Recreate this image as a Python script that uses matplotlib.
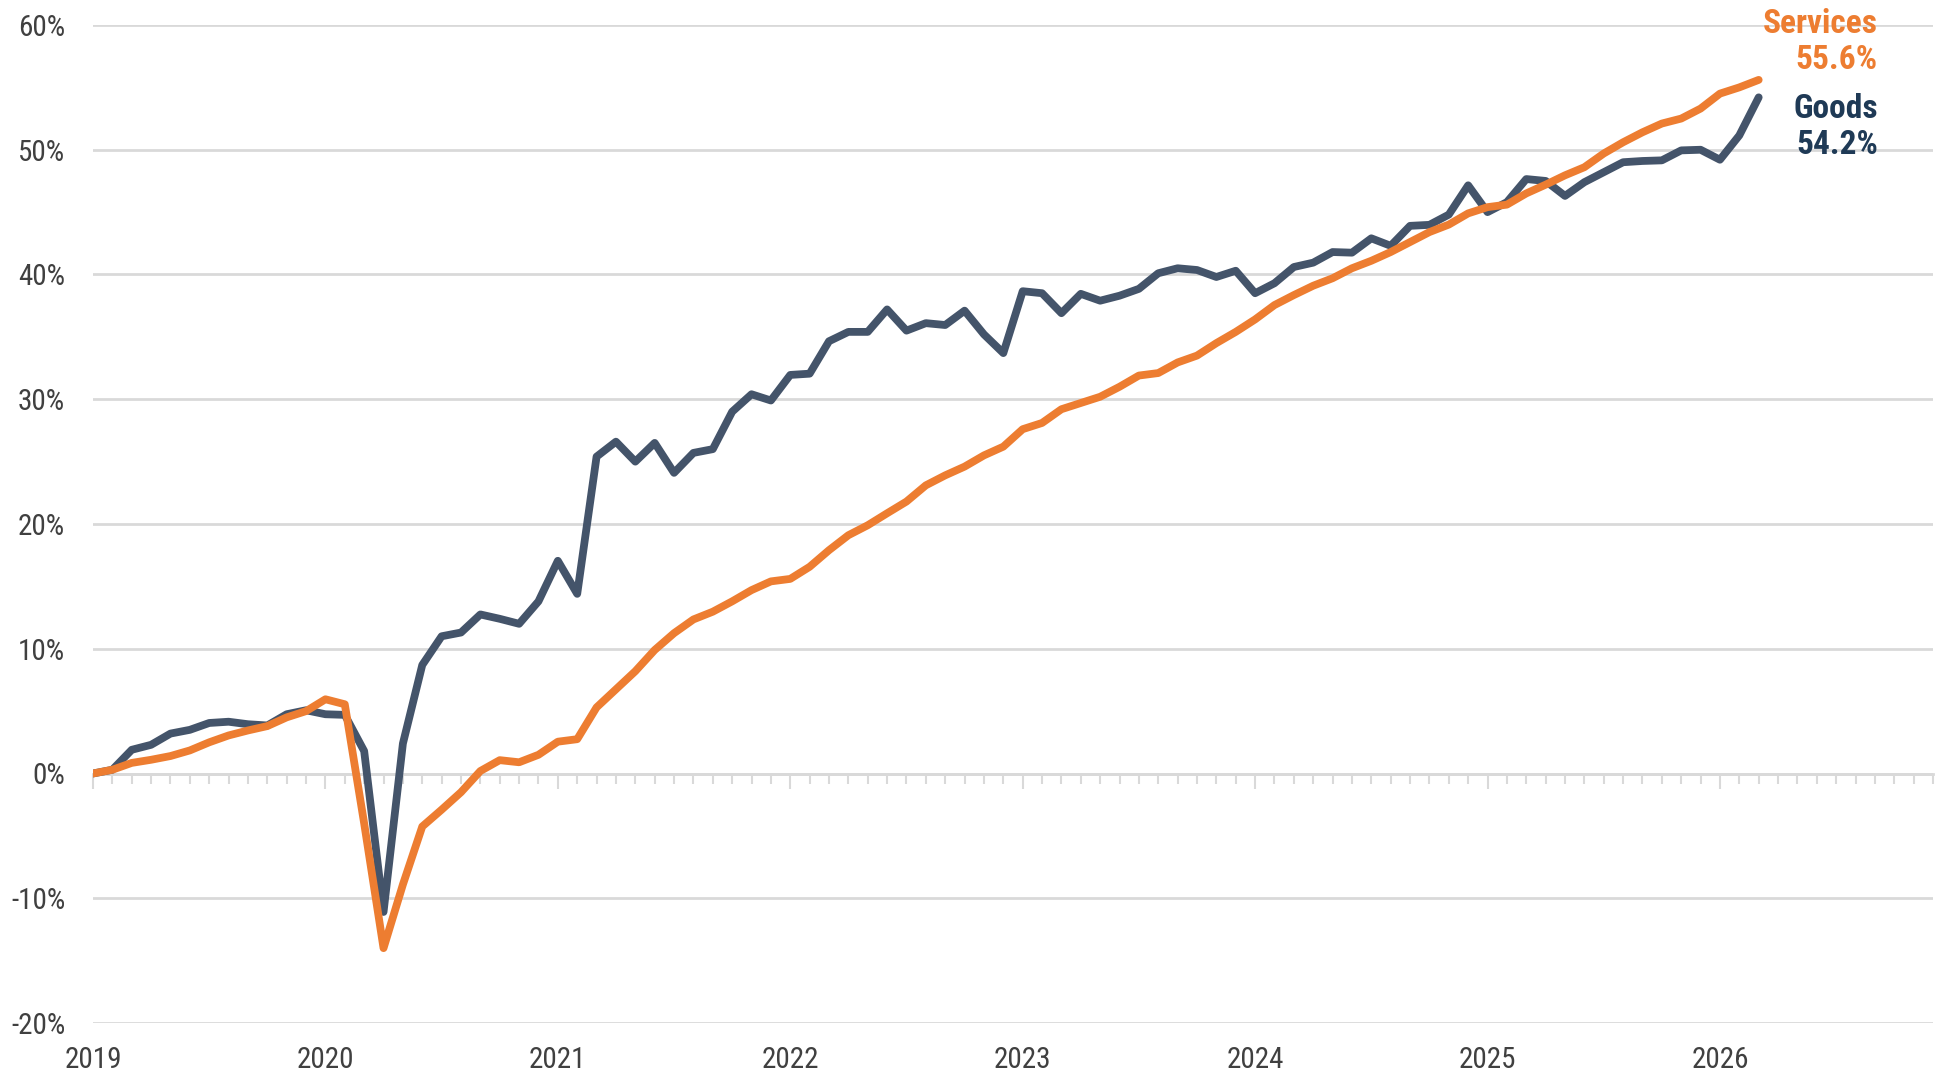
import numpy as np
import matplotlib
matplotlib.use("Agg")
import matplotlib.pyplot as plt
from matplotlib import font_manager as fm
from matplotlib.ticker import MultipleLocator, FixedLocator

# monthly index, Jan 2019 = 0 ... Mar 2026 = 86
goods = [0, 0.3, 1.9, 2.3, 3.2, 3.5, 4.05, 4.15, 3.95, 3.85, 4.75, 5.07,
         4.75, 4.7, 1.8, -11.1, 2.4, 8.7, 11.0, 11.3, 12.75, 12.4, 12.0, 13.8,
         17.05, 14.4, 25.4, 26.6, 25.0, 26.5, 24.1, 25.7, 26.0, 29.0, 30.4, 29.9,
         31.95, 32.05, 34.65, 35.4, 35.4, 37.2, 35.5, 36.1, 35.95, 37.1, 35.2, 33.7,
         38.66, 38.5, 36.9, 38.45, 37.9, 38.3, 38.85, 40.1, 40.5, 40.36, 39.8, 40.3,
         38.5, 39.3, 40.6, 40.95, 41.8, 41.75, 42.9, 42.3, 43.9, 43.98, 44.8, 47.15,
         45.0, 45.8, 47.65, 47.5, 46.3, 47.4, 48.2, 49.0, 49.1, 49.15, 49.95, 50.0,
         49.2, 51.15, 54.2]
services = [0, 0.3, 0.85, 1.1, 1.4, 1.85, 2.5, 3.05, 3.45, 3.8, 4.5, 5.0,
            5.95, 5.55, -4.0, -14.0, -8.9, -4.25, -2.9, -1.5, 0.2, 1.07, 0.9, 1.5,
            2.55, 2.75, 5.3, 6.75, 8.2, 9.9, 11.25, 12.35, 12.97, 13.8, 14.7, 15.4,
            15.6, 16.57, 17.9, 19.1, 19.9, 20.86, 21.8, 23.1, 23.9, 24.6, 25.5, 26.2,
            27.6, 28.1, 29.2, 29.7, 30.2, 31.0, 31.9, 32.1, 32.95, 33.5, 34.5, 35.4,
            36.4, 37.55, 38.35, 39.1, 39.7, 40.5, 41.1, 41.8, 42.6, 43.4, 44.0, 44.9,
            45.4, 45.6, 46.5, 47.2, 47.95, 48.6, 49.7, 50.6, 51.4, 52.1, 52.5, 53.3,
            54.5, 55.0, 55.6]
years = ["2019", "2020", "2021", "2022", "2023", "2024", "2025", "2026"]

GOODS_C = "#44546a"
SERV_C = "#ed7d31"
GRID_C = "#d9d9d9"
TEXT_C = "#404040"

names = {f.name for f in fm.fontManager.ttflist}
font = "DejaVu Sans"
for cand in ["Liberation Sans Narrow", "DejaVu Sans Condensed", "Roboto Condensed"]:
    if cand in names:
        font = cand
        break
plt.rcParams["font.family"] = [font, "DejaVu Sans"]

fig = plt.figure(figsize=(19.4, 10.8), dpi=100)
ax = fig.add_axes([93 / 1940, 1 - 1023 / 1080, (1933 - 93) / 1940, (1023 - 25) / 1080])

x = np.arange(len(goods))
ax.plot(x, goods, color=GOODS_C, lw=5.6, solid_joinstyle="round", solid_capstyle="round", zorder=3)
ax.plot(x, services, color=SERV_C, lw=5.6, solid_joinstyle="round", solid_capstyle="round", zorder=4)

ax.set_xlim(0, 95)
ax.set_ylim(-20, 60)

# horizontal gridlines
ax.yaxis.set_major_locator(MultipleLocator(10))
ax.yaxis.grid(True, color=GRID_C, lw=2)
ax.set_axisbelow(True)
ax.set_yticklabels([f"{int(v)}%" for v in ax.get_yticks()])
ax.tick_params(axis="y", length=0, pad=20, labelsize=21, labelcolor=TEXT_C)

for s in ["top", "right", "left"]:
    ax.spines[s].set_visible(False)
ax.spines["bottom"].set_position(("data", 0))
ax.spines["bottom"].set_color(GRID_C)
ax.spines["bottom"].set_linewidth(2)

# month ticks hanging off the zero line
ax.xaxis.set_major_locator(FixedLocator(np.arange(0, 96, 12)))
ax.xaxis.set_minor_locator(FixedLocator(np.arange(0, 96, 1)))
ax.tick_params(axis="x", which="major", length=11, width=1.5, color=GRID_C, labelbottom=False)
ax.tick_params(axis="x", which="minor", length=7, width=1.5, color=GRID_C)

for i, yr in enumerate(years):
    ax.annotate(yr, (i * 12, -20), xytext=(0, -27), textcoords="offset points",
                ha="center", va="center", fontsize=21, color=TEXT_C)

# end labels
fig.text(1878 / 1940, 1 - 24 / 1080, "Services", ha="right", va="center",
         fontsize=24, fontweight="bold", color=SERV_C)
fig.text(1878 / 1940, 1 - 60 / 1080, f"{services[-1]:.1f}%", ha="right", va="center",
         fontsize=24, fontweight="bold", color=SERV_C)
fig.text(1878 / 1940, 1 - 109 / 1080, "Goods", ha="right", va="center",
         fontsize=24, fontweight="bold", color="#1f3a56")
fig.text(1878 / 1940, 1 - 145 / 1080, f"{goods[-1]:.1f}%", ha="right", va="center",
         fontsize=24, fontweight="bold", color="#1f3a56")

fig.savefig("out.png", dpi=100, facecolor="white")
